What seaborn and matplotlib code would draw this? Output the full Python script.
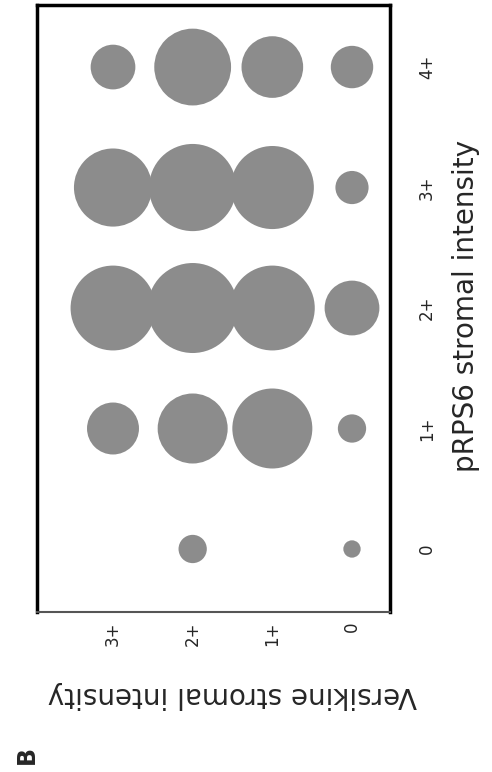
import matplotlib
matplotlib.use("Agg")
import matplotlib.pyplot as plt
import seaborn as sns
import pandas as pd

# ---- data ----
versikine_labels = ["0", "1+", "2+", "3+"]
prps6_labels = ["0", "1+", "2+", "3+", "4+"]
# counts per pRPS6 level (rows) for Versikine 0, 1+, 2+, 3+
counts_p0 = [3, 0, 8, 0]
counts_p1 = [8, 64, 49, 27]
counts_p2 = [30, 72, 81, 72]
counts_p3 = [11, 69, 76, 61]
counts_p4 = [18, 38, 59, 20]

rows = [counts_p0, counts_p1, counts_p2, counts_p3, counts_p4]
records = []
for yi, row in enumerate(rows):
    for xi, c in enumerate(row):
        if c > 0:
            records.append({"versikine": xi, "prps6": yi, "count": c})
df = pd.DataFrame(records)

sns.set_style("white")
plt.rcParams["font.family"] = ["DejaVu Sans"]

W, H = 492, 772
fig = plt.figure(figsize=(W / 100, H / 100), dpi=100)
ax = fig.add_axes([37 / W, 1 - 612 / H, (390 - 37) / W, (612 - 5) / H])

max_count = 81
sns.scatterplot(data=df, x="versikine", y="prps6", size="count",
                size_norm=(0, max_count), sizes=(0, 51.84 * max_count),
                color="#8c8c8c", linewidth=0, legend=False, ax=ax, zorder=3)

ax.set_xlim(3.954, -0.477)
ax.set_ylim(-0.523, 4.515)

ax.set_xticks(range(len(versikine_labels)))
ax.set_xticklabels(versikine_labels, rotation=90, fontsize=12)
ax.set_yticks(range(len(prps6_labels)))
ax.yaxis.tick_right()
ax.set_yticklabels(prps6_labels, rotation=90, fontsize=12, va="center")
ax.tick_params(axis="x", length=0, pad=7)
ax.tick_params(axis="y", length=0, pad=20)

ax.set_xlabel("Versikine stromal intensity", rotation=180, fontsize=20,
              ha="center", va="center")
ax.xaxis.set_label_coords((232.5 - 37) / 353, (612 - 695) / 607)
ax.yaxis.set_label_position("right")
ax.set_ylabel("pRPS6 stromal intensity", rotation=90, fontsize=20,
              ha="center", va="center")
ax.yaxis.set_label_coords((466 - 37) / 353, (612 - 306) / 607)

for side in ["top", "left", "right"]:
    ax.spines[side].set_linewidth(2.5)
    ax.spines[side].set_color("black")
ax.spines["bottom"].set_linewidth(1.5)
ax.spines["bottom"].set_color("#555555")

fig.text(26.5 / W, 1 - 755 / H, "B", rotation=90, fontsize=17,
         fontweight="bold", ha="center", va="center")

fig.savefig("out.png", dpi=100)
